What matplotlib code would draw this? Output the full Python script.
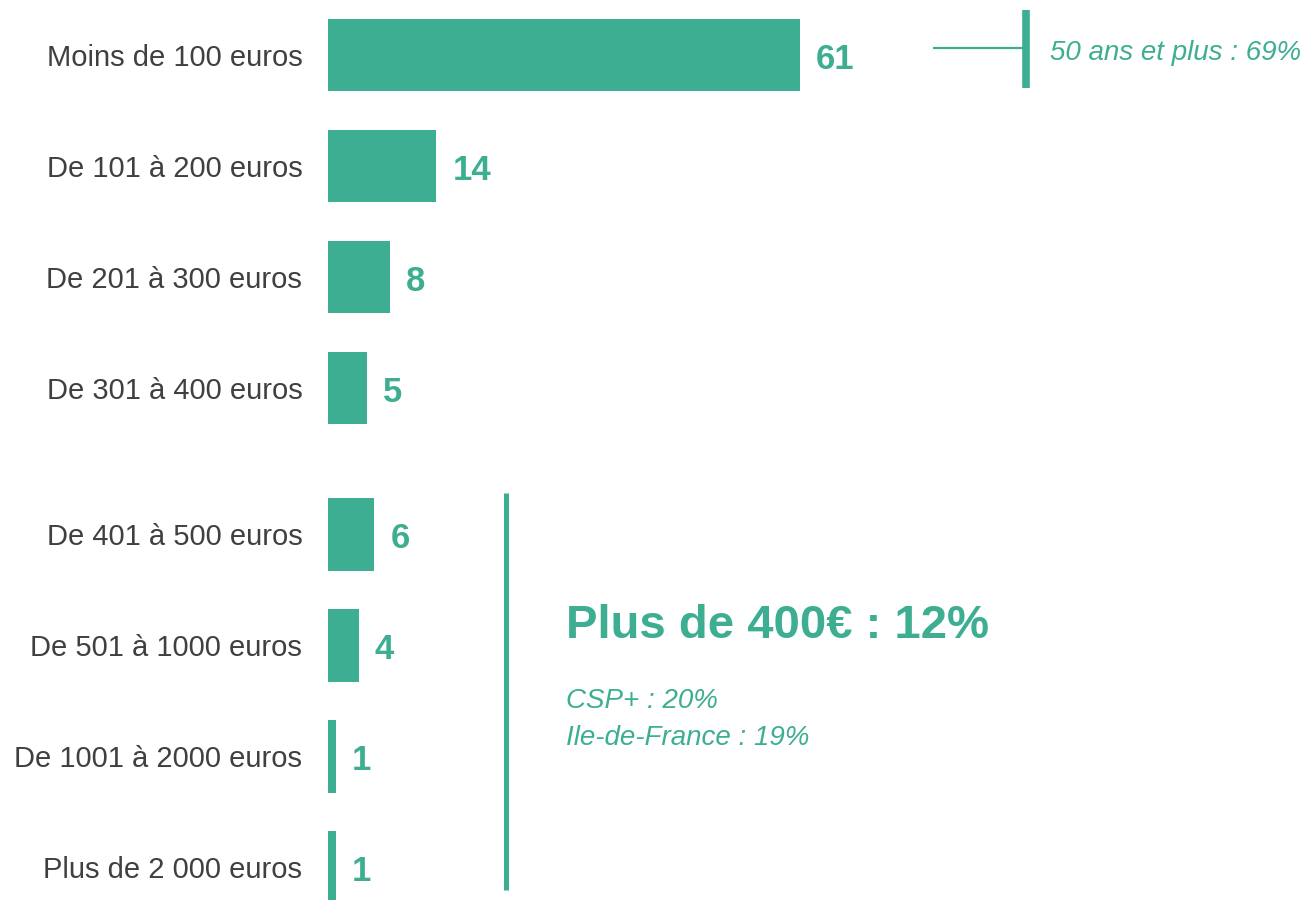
import matplotlib.pyplot as plt

plt.rcParams['font.family'] = ['Liberation Sans', 'DejaVu Sans']

# data
categories = ['Moins de 100 euros', 'De 101 à 200 euros', 'De 201 à 300 euros',
              'De 301 à 400 euros', 'De 401 à 500 euros', 'De 501 à 1000 euros',
              'De 1001 à 2000 euros', 'Plus de 2 000 euros']
values = [61, 14, 8, 5, 6, 4, 1, 1]
# a small gap separates the first four from the last four
positions = [0, 1, 2, 3, 4.32, 5.32, 6.32, 7.32]

green = '#3EAE92'
grey = '#404040'

fig = plt.figure(figsize=(13.09, 9.0), dpi=100)
ax = fig.add_axes([328 / 1309, 0, 1 - 328 / 1309, 1])

ax.barh(positions, values, height=0.65, color=green)
ax.set_xlim(0, 126.8)
ax.set_ylim(7.613, -0.495)

ax.set_yticks(positions)
ax.set_yticklabels(categories, fontsize=21, color=grey)
ax.tick_params(axis='y', length=0, pad=18.5)
ax.set_xticks([])
for s in ax.spines.values():
    s.set_visible(False)

# value labels
for p, v in zip(positions, values):
    ax.annotate(str(v), (v, p), xytext=(11.5, -3), textcoords='offset points',
                va='center', ha='left', fontsize=25, fontweight='bold', color=green)

# top right note
ax.plot([78.2, 90.2], [-0.063, -0.063], color=green, lw=1.6, solid_capstyle='butt')
ax.plot([90.2, 90.2], [-0.405, 0.297], color=green, lw=5.5, solid_capstyle='butt')
ax.text(93.3, -0.02, '50 ans et plus : 69%', fontsize=20, style='italic',
        color=green, va='center', ha='left')

# bracket for the high amounts
ax.plot([23.0, 23.0], [3.946, 7.52], color=green, lw=3.6, solid_capstyle='butt')
ax.text(30.8, 5.145, 'Plus de 400€ : 12%', fontsize=34, fontweight='bold',
        color=green, va='center', ha='left')
ax.text(30.8, 5.82, 'CSP+ : 20%', fontsize=20, style='italic',
        color=green, va='center', ha='left')
ax.text(30.8, 6.155, 'Ile-de-France : 19%', fontsize=20, style='italic',
        color=green, va='center', ha='left')

fig.savefig('out.png', dpi=100)
